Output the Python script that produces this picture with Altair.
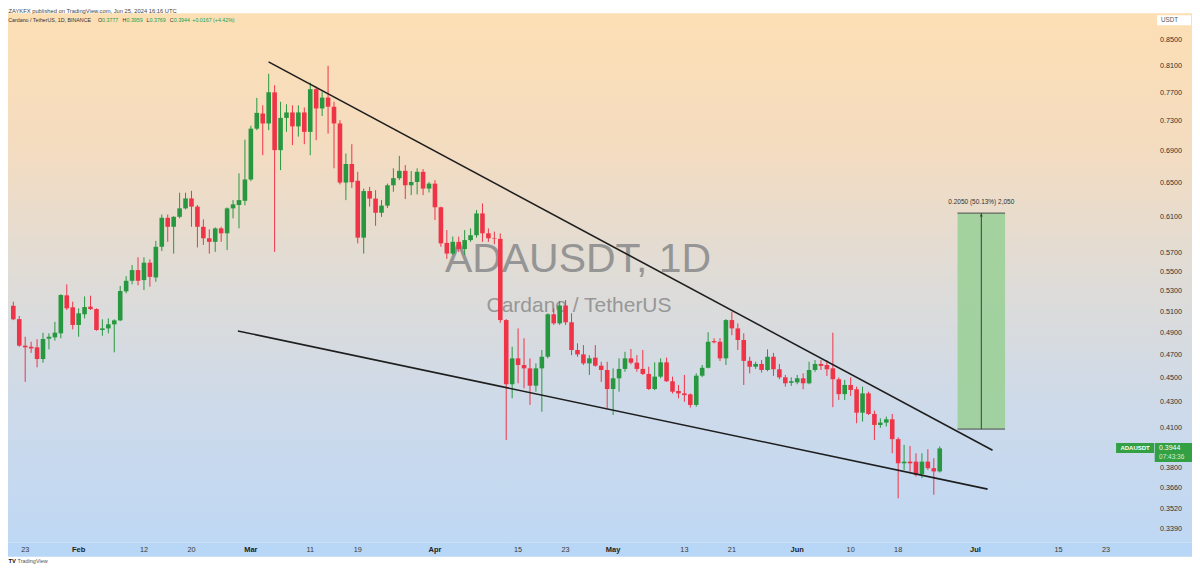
import altair as alt
import pandas as pd
from datetime import date, timedelta

# ---------------- data ----------------
first_day = date(2024, 1, 21)

opens = [
    .5158, .5030, .4785, .4775, .4770, .4666, .4848, .4860, .4897, .5260,
    .5143, .4975, .5076, .5149, .5126, .4928, .4943, .4981, .5018, .5300,
    .5406, .5516, .5413, .5593, .5440, .5763, .6086, .5984, .6097, .6195,
    .6312, .6215, .5984, .5856, .5817, .5966, .5911, .6195, .6234, .6284,
    .6541, .7197, .7405, .7268, .7706, .6912, .7344, .7420, .7228, .7420,
    .7154, .7752, .7476, .7630, .7500, .7268, .6503, .6734, .6525, .5863,
    .6400, .6310, .6144, .6227, .6470, .6557, .6648, .6470, .6510, .6636,
    .6430, .6490, .6208, .5805, .5690, .5817, .5738, .5836, .5890, .6136,
    .5911, .5856,
    .5850, .5021, .4450, .4672, .4614, .4585, .4438, .4585, .4686, .5076,
    .4990, .5160, .5000, .4746, .4707, .4628, .4678, .4608, .4571, .4410,
    .4500, .4580, .4672, .4634, .4580, .4537, .4410, .4514, .4637, .4475,
    .4394, .4374, .4366, .4280, .4522, .4590, .4826, .4820, .4672, .5021,
    .4943, .4836, .4650, .4599, .4623, .4571, .4686, .4577, .4508, .4462,
    .4466, .4500, .4458, .4571, .4623, .4614, .4585, .4492, .4368, .4444,
    .4408, .4218, .4374, .4208, .4122, .4140, .4166, .4013, .3835, .3847,
    .3847, .3757, .3847, .3800, .3777,
]
highs = [
    .5197, .5060, .4866, .4820, .4843, .4903, .4897, .5004, .5270, .5370,
    .5197, .5133, .5249, .5256, .5133, .5028, .5037, .5028, .5354, .5453,
    .5568, .5650, .5650, .5628, .5828, .6124, .6124, .6105, .6380, .6380,
    .6403, .6234, .6068, .5955, .5978, .5984, .6206, .6292, .6616, .7050,
    .7236, .7626, .7520, .7980, .7810, .7570, .7535, .7520, .7520, .7490,
    .7848, .7790, .7720, .8100, .7570, .7313, .6868, .6990, .6636, .6430,
    .6450, .6410, .6292, .6490, .6680, .6838, .6720, .6645, .6680, .6670,
    .6510, .6533, .6215, .5947, .5875, .5875, .5947, .5966, .6175, .6253,
    .5966, .5930,
    .5910, .5030, .4775, .4943, .4852, .4672, .4628, .4746, .5085, .5133,
    .5204, .5214, .5085, .4806, .4790, .4700, .4790, .4642, .4642, .4585,
    .4672, .4730, .4755, .4700, .4746, .4599, .4637, .4672, .4678, .4514,
    .4444, .4528, .4374, .4542, .4614, .4907, .4852, .4852, .5030, .5100,
    .4990, .4897, .4686, .4642, .4657, .4752, .4720, .4623, .4528, .4508,
    .4528, .4542, .4642, .4657, .4657, .4657, .4903, .4508, .4486, .4508,
    .4430, .4430, .4388, .4234, .4174, .4187, .4208, .4027, .3970, .3962,
    .3908, .3908, .3938, .3872, .3959,
]
lows = [
    .5020, .4775, .4470, .4720, .4594, .4634, .4752, .4830, .4852, .5117,
    .4934, .4866, .5037, .5117, .4921, .4875, .4897, .4725, .5011, .5280,
    .5370, .5360, .5313, .5347, .5396, .5717, .5817, .5690, .6080, .6183,
    .5984, .5756, .5783, .5690, .5708, .5817, .5727, .6080, .5966, .6230,
    .6520, .7177, .6847, .7177, .5708, .6657, .7154, .6977, .7090, .6990,
    .6847, .7043, .7370, .7130, .6680, .6480, .6292, .6438, .5800, .5690,
    .6215, .5995, .6097, .6200, .6391, .6533, .6304, .6352, .6360, .6352,
    .6383, .6060, .5763, .5633, .5675, .5708, .5675, .5817, .5863, .5817,
    .5817, .5790,
    .4995, .4007, .4334, .4458, .4416, .4280, .4388, .4226, .4672, .4975,
    .4975, .4975, .4700, .4686, .4614, .4528, .4599, .4470, .4253, .4200,
    .4388, .4556, .4620, .4556, .4528, .4402, .4400, .4500, .4470, .4374,
    .4334, .4306, .4259, .4266, .4510, .4585, .4806, .4648, .4614, .4880,
    .4746, .4444, .4542, .4580, .4548, .4560, .4520, .4492, .4430, .4436,
    .4450, .4408, .4450, .4555, .4571, .4520, .4262, .4320, .4320, .4353,
    .4135, .4148, .4200, .4007, .4100, .4110, .3908, .3591, .3787, .3775,
    .3740, .3730, .3787, .3615, .3769,
]
closes = [
    .5028, .4785, .4770, .4760, .4666, .4845, .4866, .4903, .5263, .5133,
    .4975, .5085, .5146, .5126, .4928, .4943, .4981, .5018, .5303, .5406,
    .5516, .5406, .5593, .5446, .5763, .6086, .5984, .6097, .6195, .6312,
    .6215, .5984, .5856, .5817, .5966, .5911, .6195, .6242, .6292, .6541,
    .7197, .7414, .7268, .7706, .6912, .7344, .7420, .7228, .7420, .7154,
    .7752, .7476, .7630, .7500, .7268, .6503, .6734, .6508, .5863, .6400,
    .6310, .6144, .6227, .6470, .6557, .6648, .6470, .6510, .6636, .6430,
    .6490, .6208, .5800, .5690, .5817, .5738, .5836, .5890, .6136, .5911,
    .5856, .5850,
    .5021, .4450, .4672, .4614, .4585, .4438, .4585, .4686, .5076, .4990,
    .5160, .5000, .4746, .4707, .4628, .4672, .4608, .4571, .4410, .4500,
    .4580, .4672, .4634, .4580, .4537, .4410, .4514, .4637, .4475, .4388,
    .4374, .4360, .4280, .4522, .4590, .4820, .4815, .4672, .5021, .4943,
    .4836, .4650, .4599, .4623, .4571, .4686, .4577, .4508, .4458, .4475,
    .4500, .4458, .4571, .4623, .4606, .4577, .4492, .4368, .4444, .4402,
    .4218, .4374, .4208, .4122, .4140, .4166, .4013, .3835, .3847, .3835,
    .3752, .3847, .3800, .3777, .3944,
]
dates = [(first_day + timedelta(days=i)).isoformat() for i in range(len(opens))]

price_ticks = [0.85, 0.81, 0.77, 0.73, 0.69, 0.65, 0.61, 0.57, 0.55, 0.53,
               0.51, 0.49, 0.47, 0.45, 0.43, 0.41, 0.38, 0.366, 0.352, 0.339]

time_tick_dates = ["2024-01-23", "2024-02-01", "2024-02-12", "2024-02-20", "2024-03-01",
                   "2024-03-11", "2024-03-19", "2024-04-01", "2024-04-15", "2024-04-23",
                   "2024-05-01", "2024-05-13", "2024-05-21", "2024-06-01", "2024-06-10",
                   "2024-06-18", "2024-07-01", "2024-07-15", "2024-07-23"]
time_tick_labels = ["23", "Feb", "12", "20", "Mar", "11", "19", "Apr", "15", "23",
                    "May", "13", "21", "Jun", "10", "18", "Jul", "15", "23"]
time_tick_month = [lab.isalpha() for lab in time_tick_labels]

upper_line_t = ["2024-03-03T23:31:00Z", "2024-07-03T21:22:00Z"]
upper_line_p = [0.8160, 0.3930]
lower_line_t = ["2024-02-27T19:26:00Z", "2024-07-03T01:26:00Z"]
lower_line_p = [0.4919, 0.3653]

proj_start, proj_mid, proj_end = "2024-06-28", "2024-07-02", "2024-07-06"
proj_low, proj_high = 0.4090, 0.6140
proj_label = "0.2050 (50.13%) 2,050"

symbol = "ADAUSDT"
countdown = "07:43:36"
header = "ZAYKFX published on TradingView.com, Jun 25, 2024 16:16 UTC"
title_info = "Cardano / TetherUS, 1D, BINANCE"

# ---------------- styling / layout ----------------
GREEN = "#27983f"
RED = "#ef3447"
TAG = "#32a043"
FONT = "Liberation Sans"
W, H = 1144, 530

xscale = alt.Scale(
    type="utc",
    domain=[alt.DateTime(year=2024, month=1, date=21, hours=10, minutes=48, seconds=25, utc=True),
            alt.DateTime(year=2024, month=7, date=30, hours=5, minutes=51, utc=True)],
    nice=False,
)
yscale = alt.Scale(type="log", domain=[0.33024, 0.89425], nice=False)

candles = pd.DataFrame({"date": dates, "open": opens, "high": highs,
                        "low": lows, "close": closes})
one = pd.DataFrame({"k": [0]})


def deco_text(text, x, y, **kw):
    return alt.Chart(one).mark_text(font=FONT, **kw).encode(
        x=alt.value(x), y=alt.value(y), text=alt.value(text))


bg = alt.Chart(one).mark_rect(
    fill=alt.Gradient(
        gradient="linear",
        stops=[alt.GradientStop(color="#fddfb4", offset=0),
               alt.GradientStop(color="#f4dcc0", offset=0.25),
               alt.GradientStop(color="#dfdcd7", offset=0.5),
               alt.GradientStop(color="#cddaea", offset=0.75),
               alt.GradientStop(color="#bfd8f4", offset=1)],
        x1=0, x2=0, y1=0, y2=1)
).encode(x=alt.value(-3), x2=alt.value(W + 38), y=alt.value(0), y2=alt.value(H))

band = alt.Chart(one).mark_rect(fill="#b8d6f5").encode(
    x=alt.value(-3), x2=alt.value(W + 38), y=alt.value(H), y2=alt.value(H + 14))

wm1 = deco_text("ADAUSDT, 1D", 567.5, 258.7, fontSize=41, color="#959595",
                align="center", baseline="alphabetic")
wm2 = deco_text("Cardano / TetherUS", 568.5, 299.3, fontSize=21, color="#979797",
                align="center", baseline="alphabetic")

proj = pd.DataFrame({"t0": [proj_start], "t1": [proj_end], "tm": [proj_mid],
                     "lo": [proj_low], "hi": [proj_high], "label": [proj_label]})
X0 = alt.X("t0:T", scale=xscale, axis=None)
proj_rect = alt.Chart(proj).mark_rect(fill="#9dd09a", opacity=0.92).encode(
    x=X0, x2="t1:T", y=alt.Y("lo:Q", scale=yscale, axis=None), y2="hi:Q")
proj_top = alt.Chart(proj).mark_rule(color="#4a4a4a", strokeWidth=1).encode(
    x=X0, x2="t1:T", y=alt.Y("hi:Q", scale=yscale, axis=None))
proj_bot = alt.Chart(proj).mark_rule(color="#4a4a4a", strokeWidth=1).encode(
    x=X0, x2="t1:T", y=alt.Y("lo:Q", scale=yscale, axis=None))
proj_mid_line = alt.Chart(proj).mark_rule(color="#3c3c3c", strokeWidth=1).encode(
    x=alt.X("tm:T", scale=xscale, axis=None),
    y=alt.Y("lo:Q", scale=yscale, axis=None), y2="hi:Q")
proj_arrow = alt.Chart(proj).mark_point(shape="triangle-up", filled=True, size=9,
                                        color="#3c3c3c", opacity=1, yOffset=2).encode(
    x=alt.X("tm:T", scale=xscale, axis=None), y=alt.Y("hi:Q", scale=yscale, axis=None))
proj_text = alt.Chart(proj).mark_text(font=FONT, fontSize=6.5, color="#333333", dy=-11,
                                      baseline="middle").encode(
    x=alt.X("tm:T", scale=xscale, axis=None), y=alt.Y("hi:Q", scale=yscale, axis=None),
    text="label:N")

up_color = alt.when(alt.datum.close >= alt.datum.open).then(alt.value(GREEN)).otherwise(alt.value(RED))
wicks = alt.Chart(candles).mark_rule(strokeWidth=1).encode(
    x=alt.X("date:T", scale=xscale, axis=None),
    y=alt.Y("low:Q", scale=yscale, axis=None), y2="high:Q", color=up_color)
bodies = alt.Chart(candles).mark_bar(size=4.6).encode(
    x=alt.X("date:T", scale=xscale, axis=None),
    y=alt.Y("open:Q", scale=yscale, axis=None), y2="close:Q", color=up_color)

lines = pd.DataFrame({"line": ["upper", "upper", "lower", "lower"],
                      "t": upper_line_t + lower_line_t,
                      "p": upper_line_p + lower_line_p})
trend = alt.Chart(lines).mark_line(color="#1e1e1e", strokeWidth=1.6).encode(
    x=alt.X("t:T", scale=xscale, axis=None),
    y=alt.Y("p:Q", scale=yscale, axis=None), detail="line:N")

price_df = pd.DataFrame({"p": price_ticks, "label": [f"{v:.4f}" for v in price_ticks]})
price_labels = alt.Chart(price_df).mark_text(font=FONT, fontSize=7.2, color="#303030",
                                             align="left", baseline="middle").encode(
    x=alt.value(W + 6), y=alt.Y("p:Q", scale=yscale, axis=None), text="label:N")

time_df = pd.DataFrame({"t": time_tick_dates, "label": time_tick_labels,
                        "month": time_tick_month})
time_days = alt.Chart(time_df).transform_filter("!datum.month").mark_text(
    font=FONT, fontSize=7.3, color="#3a3a3a", baseline="middle").encode(
    x=alt.X("t:T", scale=xscale, axis=None), y=alt.value(H + 7), text="label:N")
time_months = alt.Chart(time_df).transform_filter("datum.month").mark_text(
    font=FONT, fontSize=7.5, fontWeight="bold", color="#222222", baseline="middle").encode(
    x=alt.X("t:T", scale=xscale, axis=None), y=alt.value(H + 7), text="label:N")

last_df = pd.DataFrame({"p": [closes[-1]], "price": [f"{closes[-1]:.4f}"],
                        "sym": [symbol], "cd": [countdown]})
YP = alt.Y("p:Q", scale=yscale, axis=None)
sym_box = alt.Chart(last_df).mark_rect(fill=TAG, yOffset=-5.5, y2Offset=4.5).encode(
    x=alt.value(W - 38), x2=alt.value(W), y=YP, y2="p:Q")
price_box = alt.Chart(last_df).mark_rect(fill=TAG, yOffset=-5.5, y2Offset=13.5).encode(
    x=alt.value(W + 0.7), x2=alt.value(W + 38), y=YP, y2="p:Q")
sym_text = alt.Chart(last_df).mark_text(font=FONT, fontSize=6, fontWeight="bold",
                                        color="white", baseline="middle").encode(
    x=alt.value(W - 19), y=YP, text="sym:N")
price_text = alt.Chart(last_df).mark_text(font=FONT, fontSize=7, color="white",
                                          align="left", baseline="middle", dy=-0.5).encode(
    x=alt.value(W + 5), y=YP, text="price:N")
cd_text = alt.Chart(last_df).mark_text(font=FONT, fontSize=6.5, color="#d5eed5",
                                       align="left", baseline="middle", dy=8.5).encode(
    x=alt.value(W + 5), y=YP, text="cd:N")

usdt_box = alt.Chart(one).mark_rect(fill="white").encode(
    x=alt.value(W + 3), x2=alt.value(W + 37), y=alt.value(2), y2=alt.value(12))
usdt_text = deco_text("USDT", W + 7, 7, fontSize=6.3, color="#555555",
                      align="left", baseline="middle")

head = deco_text(header, -2.5, -2.3, fontSize=5.8, color="#444444",
                 align="left", baseline="middle")
INFO_FS = 5.3
info = deco_text(title_info, -2.7, 6.4, fontSize=INFO_FS, color="#333333",
                 align="left", baseline="middle")

ohlc_tokens = [("O", opens[-1], 87.0, 4.2), ("H", highs[-1], 111.7, 3.9),
               ("L", lows[-1], 135.7, 3.0), ("C", closes[-1], 159.0, 3.9)]
info_layers = []
for letter, val, px, lw in ohlc_tokens:
    info_layers.append(deco_text(letter, px, 6.4, fontSize=INFO_FS, color="#333333",
                                 align="left", baseline="middle"))
    info_layers.append(deco_text(f"{val:.4f}", px + lw, 6.4, fontSize=INFO_FS, color="#22a04a",
                                 align="left", baseline="middle"))
chg = closes[-1] - closes[-2]
chg_text = f"+{chg:.4f} (+{chg / closes[-2] * 100:.2f}%)"
info_layers.append(deco_text(chg_text, 181.5, 6.4, fontSize=INFO_FS, color="#22a04a",
                             align="left", baseline="middle"))

logo1 = deco_text("TV", -2.5, 548, fontSize=5.8, fontWeight="bold", color="#111111",
                  align="left", baseline="middle")
logo2 = deco_text("TradingView", 6.5, 548, fontSize=5.5, color="#555555",
                  align="left", baseline="middle")

chart = alt.layer(
    bg, band, wm1, wm2, proj_rect,
    wicks, bodies, trend,
    proj_top, proj_bot, proj_mid_line, proj_arrow, proj_text,
    price_labels, time_days, time_months,
    sym_box, price_box, sym_text, price_text, cd_text,
    usdt_box, usdt_text, head, info, *info_layers, logo1, logo2,
).properties(
    width=W, height=H,
    padding={"left": 3, "top": 5, "right": 38, "bottom": 21},
    autosize=alt.AutoSizeParams(type="none"),
    background="white",
).configure_view(stroke=None)

chart.save("out.html", embed_options={"renderer": "svg", "actions": False})
